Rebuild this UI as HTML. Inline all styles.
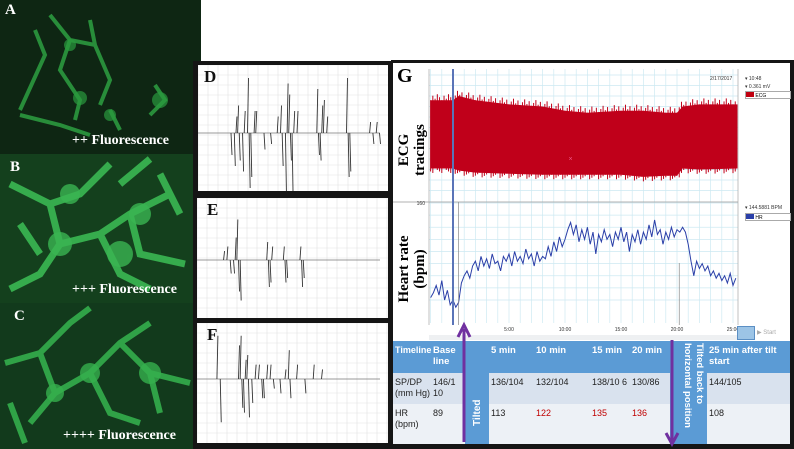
<!DOCTYPE html>
<html><head><meta charset="utf-8">
<style>
body{margin:0;width:794px;height:449px;overflow:hidden;background:#fff;position:relative;font-family:"Liberation Sans",sans-serif}
.abs{position:absolute}
.flu{position:absolute;overflow:hidden;background:#0e2613}
.flu .lab{position:absolute;font-family:"Liberation Serif",serif;font-weight:bold;color:#fff;font-size:15px}
.flu .cap{position:absolute;font-family:"Liberation Serif",serif;font-weight:bold;color:#fff;font-size:14px;white-space:nowrap}
.tr{position:absolute;background:#fff}
.tr .lab{position:absolute;left:6px;top:2px;font-family:"Liberation Serif",serif;font-weight:bold;font-size:17px;color:#111}
.c{position:absolute;font-size:9px;line-height:11px;padding:4px 2px;box-sizing:border-box;color:#222;overflow:hidden}
.h{color:#fff;font-weight:bold;font-size:9.5px}
</style></head><body>

<div class="flu" style="left:0;top:0;width:201px;height:154px">
<svg width="201" height="154"><g fill="none" stroke="#2fa845" stroke-width="4" opacity="0.8">
<path d="M50 15 L70 40 L95 45 L90 20 M70 40 L60 70 L80 100 L75 120 M95 45 L110 80 L100 105 M35 30 L45 55 L20 110 M155 85 L165 100 L150 115 M20 115 L60 125 L90 135 M110 110 L120 130"/></g>
<g fill="#2a9a3e" opacity="0.7"><circle cx="80" cy="98" r="7"/><circle cx="160" cy="100" r="8"/><circle cx="70" cy="45" r="6"/><circle cx="110" cy="115" r="6"/></g></svg>
<div class="lab" style="left:5px;top:2px">A</div>
<div class="cap" style="left:72px;top:133px">++ Fluorescence</div></div>

<div class="flu" style="left:0;top:154px;width:195px;height:149px;background:#14401d">
<svg width="195" height="149"><g fill="none" stroke="#3cc056" stroke-width="7" opacity="0.85">
<path d="M10 30 L50 50 L80 40 L110 10 M50 50 L60 90 L40 120 L10 135 M60 90 L100 80 L130 60 L170 40 M100 80 L120 120 L150 135 M130 60 L140 100 L185 110 M20 70 L40 100 M160 20 L180 60 M150 5 L120 30"/></g>
<g fill="#3ab552" opacity="0.8"><circle cx="60" cy="90" r="12"/><circle cx="120" cy="100" r="13"/><circle cx="140" cy="60" r="11"/><circle cx="70" cy="40" r="10"/></g></svg>
<div class="lab" style="left:10px;top:5px">B</div>
<div class="cap" style="left:72px;top:128px">+++ Fluorescence</div></div>

<div class="flu" style="left:0;top:303px;width:195px;height:146px;background:#123a1c">
<svg width="195" height="146"><g fill="none" stroke="#36b54f" stroke-width="6" opacity="0.85">
<path d="M5 60 L40 50 L70 20 L90 5 M40 50 L55 90 L30 120 M55 90 L90 70 L120 40 L150 20 M90 70 L110 110 L140 120 M120 40 L150 70 L190 80 M150 70 L160 110 M10 100 L25 140"/></g>
<g fill="#36b04d" opacity="0.8"><circle cx="90" cy="70" r="10"/><circle cx="150" cy="70" r="11"/><circle cx="55" cy="90" r="9"/></g></svg>
<div class="lab" style="left:14px;top:5px">C</div>
<div class="cap" style="left:63px;top:125px">++++ Fluorescence</div></div>

<div class="abs" style="left:193px;top:61px;width:199px;height:388px;background:#151515"></div>
<div class="tr" style="left:198px;top:65px;width:190px;height:126px"><svg id="svgD" width="190" height="126"></svg><div class="lab">D</div></div>
<div class="tr" style="left:197px;top:198px;width:191px;height:120px"><svg id="svgE" width="191" height="120"></svg><div class="lab" style="left:10px">E</div></div>
<div class="tr" style="left:197px;top:323px;width:191px;height:120px"><svg id="svgF" width="191" height="120"></svg><div class="lab" style="left:10px">F</div></div>

<div class="abs" style="left:391px;top:60px;width:403px;height:389px;background:#151515"></div>
<div class="abs" style="left:393px;top:63px;width:397px;height:278px;background:#fff">
<svg id="svgG" width="397" height="278" style="position:absolute;left:0;top:0"></svg>
<div class="abs" style="left:4px;top:2px;font-family:'Liberation Serif',serif;font-weight:bold;font-size:20px">G</div>
<div class="abs" style="left:-21px;top:71px;width:80px;transform:rotate(-90deg);font-family:'Liberation Serif',serif;font-weight:bold;font-size:15px;line-height:16px;text-align:center;background:#fff">ECG tracings</div>
<div class="abs" style="left:-26px;top:190px;width:90px;transform:rotate(-90deg);font-family:'Liberation Serif',serif;font-weight:bold;font-size:15px;line-height:16px;text-align:center;background:#fff">Heart rate (bpm)</div>
<div class="abs" style="left:317px;top:13px;font-size:5px;color:#333">2/17/2017</div>
<div class="abs" style="left:352px;top:13px;font-size:5px;color:#333">▾ 10:48</div>
<div class="abs" style="left:352px;top:21px;font-size:5px;color:#333">▾ 0.361 mV</div>
<div class="abs" style="left:352px;top:28px;width:44px;height:6px;border:1px solid #aaa;font-size:5px;line-height:6px"><span style="display:inline-block;width:8px;height:5px;background:#c00010"></span> ECG</div>
<div class="abs" style="left:352px;top:142px;font-size:5px;color:#333">▾ 144.5881 BPM</div>
<div class="abs" style="left:352px;top:150px;width:44px;height:6px;border:1px solid #aaa;font-size:5px;line-height:6px"><span style="display:inline-block;width:8px;height:5px;background:#2a3fa8"></span> HR</div>
<div class="abs" style="left:344px;top:263px;width:16px;height:12px;background:#9cc4e6;border:1px solid #5b8fc4"></div>
<div class="abs" style="left:364px;top:266px;font-size:6px;color:#aaa">▶ Start</div>
</div>

<div class="abs" style="left:393px;top:341px;width:397px;height:103px;background:#fff;overflow:visible">
<div class="abs" style="left:0;top:0;width:397px;height:32px;background:#5b9bd5"></div>
<div class="abs" style="left:0;top:32px;width:397px;height:31px;background:#d9e2ee"></div>
<div class="abs" style="left:0;top:63px;width:397px;height:40px;background:#edf1f6"></div>
<div class="abs" style="left:72px;top:0;width:24px;height:103px;background:#5b9bd5"></div>
<div class="abs" style="left:277px;top:0;width:37px;height:103px;background:#5b9bd5"></div>
<div class="c h" style="left:0;top:0;width:40px;font-size:9px">Timeline</div>
<div class="c h" style="left:38px;top:0;width:34px">Base line</div>
<div class="c h" style="left:96px;top:0;width:45px">5 min</div>
<div class="c h" style="left:141px;top:0;width:56px">10 min</div>
<div class="c h" style="left:197px;top:0;width:40px">15 min</div>
<div class="c h" style="left:237px;top:0;width:40px">20 min</div>
<div class="c h" style="left:314px;top:0;width:83px">25 min after tilt start</div>
<div class="c" style="left:0;top:32px;width:40px">SP/DP (mm Hg)</div>
<div class="c" style="left:38px;top:32px;width:34px">146/1 10</div>
<div class="c" style="left:96px;top:32px;width:45px">136/104</div>
<div class="c" style="left:141px;top:32px;width:56px">132/104</div>
<div class="c" style="left:197px;top:32px;width:40px">138/10 6</div>
<div class="c" style="left:237px;top:32px;width:40px">130/86</div>
<div class="c" style="left:314px;top:32px;width:83px">144/105</div>
<div class="c" style="left:0;top:63px;width:40px">HR (bpm)</div>
<div class="c" style="left:38px;top:63px;width:34px">89</div>
<div class="c" style="left:96px;top:63px;width:45px">113</div>
<div class="c" style="left:141px;top:63px;width:56px;color:#c00000">122</div>
<div class="c" style="left:197px;top:63px;width:40px;color:#c00000">135</div>
<div class="c" style="left:237px;top:63px;width:40px;color:#c00000">136</div>
<div class="c" style="left:314px;top:63px;width:83px">108</div>
<div class="abs" style="left:78px;top:45px;width:14px;height:40px;writing-mode:vertical-rl;transform:rotate(180deg);color:#fff;font-weight:bold;font-size:10px;line-height:14px;white-space:nowrap">Tilted</div>
<div class="abs" style="left:284px;top:2px;width:28px;height:100px;writing-mode:vertical-rl;color:#fff;font-weight:bold;font-size:9.5px;line-height:12px;white-space:normal">Tilted back to horizontal position</div>
<svg class="abs" style="left:0;top:0;overflow:visible" width="397" height="103">
<path d="M71 101 L71 -12" stroke="#7030a0" stroke-width="3"/><path d="M65 -4 L71 -16 L77 -4" fill="none" stroke="#7030a0" stroke-width="3"/>
<path d="M279 -1 L279 100" stroke="#7030a0" stroke-width="3"/><path d="M273 92 L279 103 L285 92" fill="none" stroke="#7030a0" stroke-width="3"/>
</svg>
</div>

<script>
const hrTimes=[-2,-1.75,-1.5,-1.25,-1,-0.75,-0.5,-0.25,0,0.25,0.5,0.75,1,1.25,1.5,1.75,2,2.25,2.5,2.75,3,3.25,3.5,3.75,4,4.25,4.5,4.75,5,5.25,5.5,5.75,6,6.25,6.5,6.75,7,7.25,7.5,7.75,8,8.25,8.5,8.75,9,9.25,9.5,9.75,10,10.25,10.5,10.75,11,11.25,11.5,11.75,12,12.25,12.5,12.75,13,13.25,13.5,13.75,14,14.25,14.5,14.75,15,15.25,15.5,15.75,16,16.25,16.5,16.75,17,17.25,17.5,17.75,18,18.25,18.5,18.75,19,19.25,19.5,19.75,20,20.25,20.5,20.75,21,21.25,21.5,21.75,22,22.25,22.5,22.75,23,23.25,23.5,23.75,24,24.25,24.5,24.75,25,25.25];
const hrValues=[82,86,92,84,96,80,88,76,80,74,78,94,100,104,98,108,112,104,116,108,114,106,118,110,112,104,116,112,118,108,120,112,116,110,122,114,118,108,120,112,116,114,124,116,128,120,132,124,130,138,144,134,142,128,138,130,140,126,136,118,134,128,138,130,134,124,136,130,140,128,136,120,134,128,138,126,136,130,142,132,146,134,138,126,136,130,140,132,138,136,140,136,126,112,100,112,106,110,104,108,100,104,98,102,96,100,94,102,92,98,104];
const ecgTimes=[-2,0,0.5,2,5,8,10,12,15,17,19,20,20.5,22,25.4];
const ecgMax=[2.8,2.8,3.0,2.8,2.6,2.5,2.3,2.2,2.3,2.3,2.2,2.2,2.5,2.6,2.6];
const ecgMin=[-0.45,-0.45,-0.55,-0.65,-0.7,-0.75,-0.75,-0.75,-0.75,-0.85,-0.8,-0.8,-0.45,-0.5,-0.45];
const timeTicks=[5,10,15,20,25];
const timeTickLabels=["5:00","10:00","15:00","20:00","25:00"];
const hrTicks=[80,100,120,140,160];
const ecgTicks=[0,2];
const spikesD=[[0.2,-0.4],[0.22,-0.6],[0.23,0.3],[0.24,0.5],[0.25,-0.5],[0.27,-0.7],[0.28,0.4],[0.3,1.0],[0.31,-1.0],[0.32,-0.8],[0.34,0.4],[0.35,0.4],[0.4,-0.3],[0.44,-0.2],[0.48,0.3],[0.5,0.5],[0.51,-0.6],[0.53,-1.1],[0.54,0.9],[0.55,0.7],[0.56,-0.5],[0.57,-1.1],[0.58,0.4],[0.6,0.4],[0.72,0.8],[0.73,-0.4],[0.74,-0.5],[0.75,0.5],[0.76,0.6],[0.78,0.3],[0.9,1.0],[0.91,-0.8],[0.92,-0.7],[1.04,0.2],[1.06,-0.2],[1.08,0.2],[1.1,-0.2]];
const spikesE=[[0.16,0.2],[0.18,0.3],[0.2,-0.3],[0.22,-0.3],[0.23,0.5],[0.24,0.9],[0.25,-0.7],[0.26,-0.9],[0.42,0.4],[0.43,-0.6],[0.44,-0.5],[0.45,0.3],[0.52,0.3],[0.53,-0.5],[0.54,-0.4],[0.62,0.3],[0.63,-0.6],[0.64,-0.4]];
const spikesF=[[0.12,0.9],[0.14,-0.9],[0.25,0.7],[0.26,0.9],[0.27,-0.6],[0.28,-0.7],[0.29,0.4],[0.3,0.5],[0.31,-0.8],[0.33,-0.5],[0.35,0.3],[0.37,0.3],[0.39,-0.4],[0.4,-0.4],[0.42,0.3],[0.44,0.3],[0.46,-0.2],[0.5,-0.3],[0.53,0.2],[0.55,0.6],[0.56,-0.4],[0.6,0.3],[0.65,-0.3],[0.7,0.3],[0.75,0.2]];

(function(){
const NS="http://www.w3.org/2000/svg";
function mk(p,tag,a){const e=document.createElementNS(NS,tag);for(const k in a)e.setAttribute(k,a[k]);p.appendChild(e);return e;}
const g=document.getElementById('svgG');
const X0=36,X1=345;
const xT=t=>60+t*11.2;
const yE=v=>96-v*21;
const yH=v=>140-(v-160)*1.2125;
for(let t=-2;t<=25;t++){const x=xT(t);
 const l1=mk(g,'line',{x1:x,x2:x,y1:6,y2:260,stroke:'#cde9f2','stroke-width':0.7});
 
 }
for(let v=80;v<=160;v+=10){const y=yH(v);const l=mk(g,'line',{x1:X0,x2:X1,y1:y,y2:y,stroke:'#cde9f2','stroke-width':0.7});
 
 }
for(let v=-1.5;v<=4;v+=0.5){const y=yE(v);if(y<6)continue;const l=mk(g,'line',{x1:X0,x2:X1,y1:y,y2:y,stroke:'#cde9f2','stroke-width':0.7});
 
 }
mk(g,'line',{x1:0,x2:X1,y1:139,y2:139,stroke:'#999','stroke-width':0.8});
mk(g,'line',{x1:X0,x2:X0,y1:6,y2:262,stroke:'#999','stroke-width':0.6});
mk(g,'line',{x1:X1,x2:X1,y1:6,y2:262,stroke:'#999','stroke-width':0.6});
let upper=[],lower=[];
for(let i=0;i<ecgTimes.length;i++){upper.push(xT(ecgTimes[i])+','+yE(ecgMax[i]));lower.unshift(xT(ecgTimes[i])+','+yE(ecgMin[i]));}
const band=mk(g,'polygon',{points:upper.concat(lower).join(' '),fill:'#c0001a'});


for(let t=-2;t<=25.3;t+=0.2){const x=xT(t);
 let mx=ecgMax[0],mn=ecgMin[0];
 for(let i=0;i<ecgTimes.length-1;i++){if(t>=ecgTimes[i]&&t<=ecgTimes[i+1]){const f=(t-ecgTimes[i])/(ecgTimes[i+1]-ecgTimes[i]);mx=ecgMax[i]+f*(ecgMax[i+1]-ecgMax[i]);mn=ecgMin[i]+f*(ecgMin[i+1]-ecgMin[i]);}}
 const k=Math.round(t*5);
 const s=mk(g,'line',{x1:x,x2:x,y1:yE(mx)-((Math.abs(k*7)%5)*1.5),y2:yE(mn)+((Math.abs(k*3)%4)*1.5),stroke:'#c0001a','stroke-width':1});
 
 }
const cx=mk(g,'text',{x:xT(10.5),y:yE(0)+2,'font-size':7,'text-anchor':'middle',fill:'#e58'});cx.textContent='×';
const pts=hrTimes.map((t,i)=>xT(t)+','+yH(hrValues[i])).join(' ');
const hl=mk(g,'polyline',{points:pts,fill:'none',stroke:'#2a3fa8','stroke-width':1});


mk(g,'line',{x1:xT(0),x2:xT(0),y1:6,y2:262,stroke:'#5a74b8','stroke-width':2});
mk(g,'line',{x1:xT(0.5),x2:xT(0.5),y1:139,y2:262,stroke:'#888','stroke-width':0.7});
mk(g,'line',{x1:xT(20.2),x2:xT(20.2),y1:200,y2:262,stroke:'#888','stroke-width':0.7});
timeTicks.forEach((t,i)=>{const tx=mk(g,'text',{x:xT(t),y:268,'font-size':5,'text-anchor':'middle',fill:'#333'});tx.textContent=timeTickLabels[i];
 
 });
hrTicks.forEach(v=>{const tx=mk(g,'text',{x:X0-4,y:yH(v)+2,'font-size':5,'text-anchor':'end',fill:'#333'});tx.textContent=v;
 
 });
ecgTicks.forEach(v=>{const tx=mk(g,'text',{x:X0-4,y:yE(v)+2,'font-size':5,'text-anchor':'end',fill:'#333'});tx.textContent=v;
 
 });
mk(g,'rect',{x:X0,y:272,width:310,height:5,fill:'#eef0f2'});

function trace(id,sp,w,h,base,amp){
 const s=document.getElementById(id);
 for(let x=0;x<w;x+=10){mk(s,'line',{x1:x,x2:x,y1:0,y2:h,stroke:'#e2e2e2','stroke-width':0.6});}
 for(let y=0;y<h;y+=10){mk(s,'line',{x1:0,x2:w,y1:y,y2:y,stroke:'#e2e2e2','stroke-width':0.6});}
 const bl=mk(s,'line',{x1:0,x2:w-8,y1:base,y2:base,stroke:'#777','stroke-width':0.8});
 
 
 sp.forEach(p=>{const x=p[0]*(w-25);const l=mk(s,'line',{x1:x,x2:x+1,y1:base,y2:base-p[1]*amp,stroke:'#333','stroke-width':0.9});
  
  });
}
trace('svgD',spikesD,190,126,68,55);
trace('svgE',spikesE,191,120,62,45);
trace('svgF',spikesF,191,120,56,48);
})();
</script>
</body></html>
